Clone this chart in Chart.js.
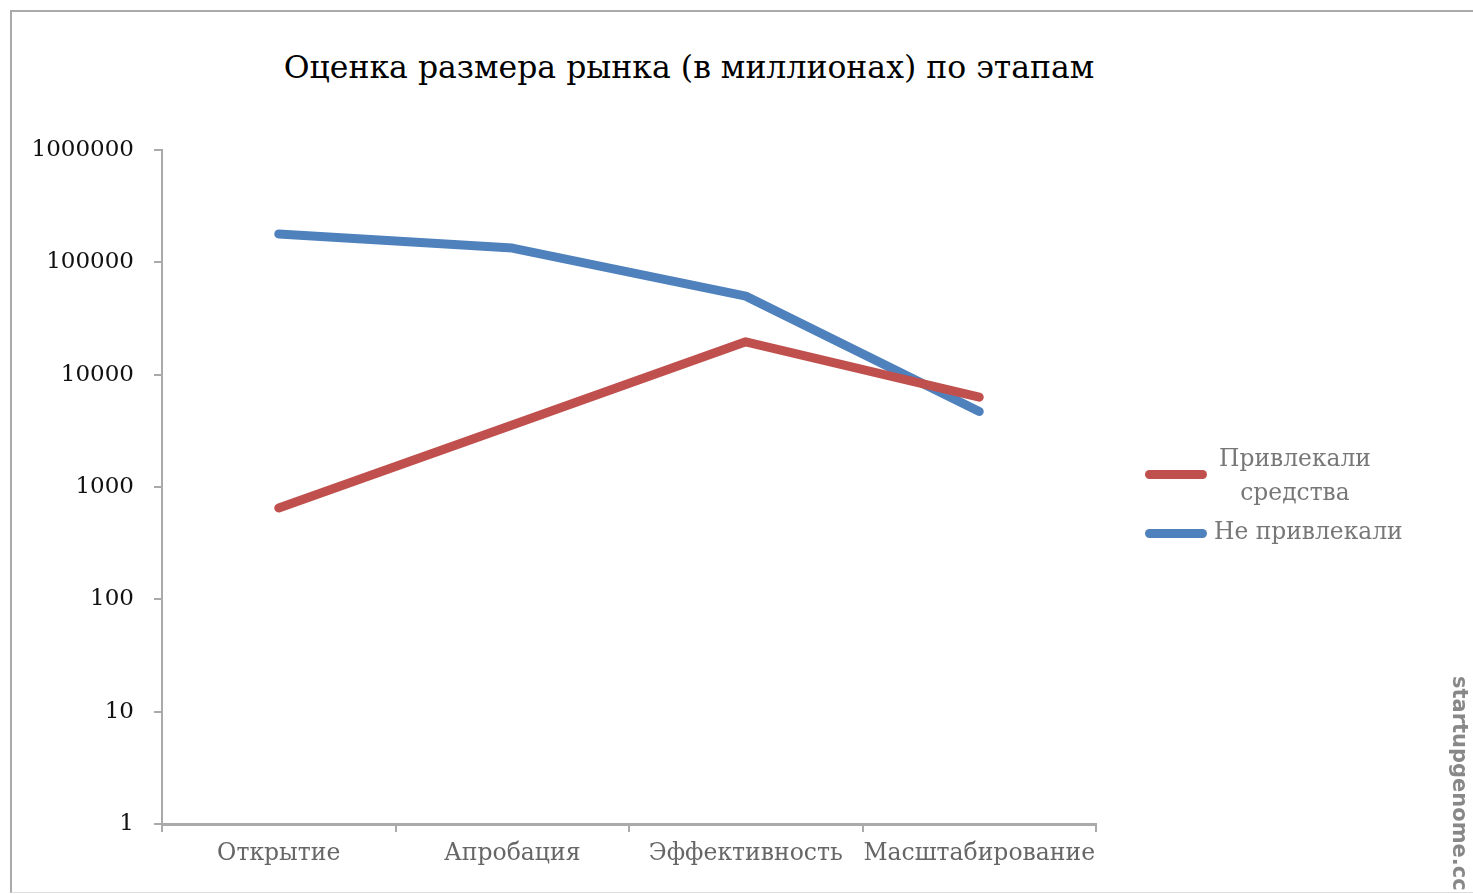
<!DOCTYPE html>
<html><head><meta charset="utf-8">
<script src="https://cdn.jsdelivr.net/npm/chart.js@4"></script>
<style>
html,body{margin:0;padding:0;background:#fff;width:1473px;height:894px;overflow:hidden;}
#wrap{position:absolute;left:0;top:0;width:1473px;height:894px;overflow:hidden;}
#frame{position:absolute;left:10px;top:10px;width:1480px;height:880px;border-left:2px solid #aaa;border-top:2px solid #aaa;border-bottom:1px solid #ddd;}
#title{position:absolute;left:0;width:1378px;top:49px;text-align:center;font-family:"DejaVu Serif",serif;font-size:31.5px;color:#000;}
.leg{position:absolute;font-family:"DejaVu Serif",serif;font-size:23.4px;color:#777;}
.sw{position:absolute;height:9px;border-radius:5px;}
#wm{position:absolute;left:1472px;top:676px;transform-origin:0 0;transform:rotate(90deg);font-family:"DejaVu Sans",sans-serif;font-size:21px;font-weight:bold;color:#888;white-space:nowrap;}
canvas{position:absolute;left:0;top:0;}
</style></head>
<body><div id="wrap">
<div id="frame"></div>
<div id="title">Оценка размера рынка (в миллионах) по этапам</div>
<canvas id="c" width="1473" height="894"></canvas>
<div class="sw" style="left:1145px;top:470px;width:62px;background:#C0504D"></div>
<div class="leg" style="left:1200px;top:441px;width:190px;text-align:center;line-height:34px;">Привлекали<br>средства</div>
<div class="sw" style="left:1145px;top:529px;width:62px;background:#4F81BD"></div>
<div class="leg" style="left:1214px;top:517px;">Не привлекали</div>
<div id="wm">startupgenome.cc</div>
</div>
<script>
const categories = ["Открытие","Апробация","Эффективность","Масштабирование"];
const raisedLabel = "Привлекали средства";
const notRaisedLabel = "Не привлекали";
const raisedValues = [650, 3570, 19600, 6300];
const notRaisedValues = [179000, 134000, 50000, 4700];
const yTicks = [1,10,100,1000,10000,100000,1000000];

new Chart(document.getElementById('c'), {
  type: 'line',
  data: {
    labels: categories,
    datasets: [
      {label: raisedLabel, data: raisedValues, borderColor:'#C0504D', backgroundColor:'#C0504D', borderWidth:9, pointRadius:0, tension:0, borderCapStyle:'round', borderJoinStyle:'round'},
      {label: notRaisedLabel, data: notRaisedValues, borderColor:'#4F81BD', backgroundColor:'#4F81BD', borderWidth:9, pointRadius:0, tension:0, borderCapStyle:'round', borderJoinStyle:'round'}
    ]
  },
  options: {
    responsive:false, animation:false,
    layout:{padding:{left:0, right:377, top:150, bottom:10}},
    plugins:{legend:{display:false}, title:{display:false}, tooltip:{enabled:false}},
    scales:{
      x:{
        offset:true,
        grid:{offset:true, drawOnChartArea:false, tickLength:8, color:'#aaa', lineWidth:2},
        border:{color:'#aaa', width:3},
        ticks:{font:{family:'"DejaVu Serif",serif', size:23.5}, color:'#666', padding:8, maxRotation:0, autoSkip:false},
        afterFit(s){ s.height = 60; }
      },
      y:{
        type:'logarithmic', min:1, max:1000000,
        grid:{drawOnChartArea:false, tickLength:8, color:'#aaa', lineWidth:2},
        border:{color:'#aaa', width:2},
        ticks:{font:{family:'"DejaVu Serif",serif', size:23}, color:'#111', padding:20, callback:(v)=>String(v)},
        afterBuildTicks(s){ s.ticks = yTicks.map(v=>({value:v})); },
        afterFit(s){ s.width = 162; }
      }
    }
  }
});
</script>
</body></html>
